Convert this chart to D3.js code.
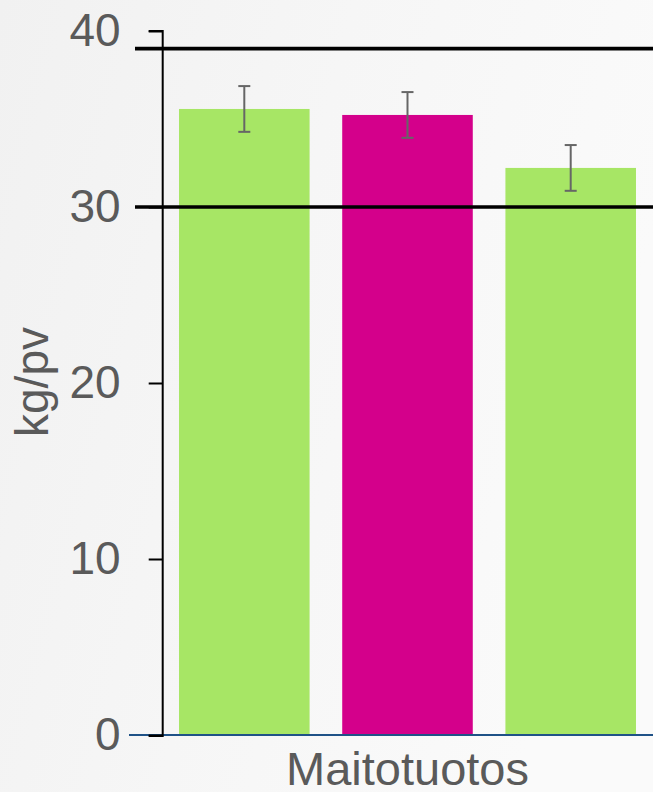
<!DOCTYPE html>
<html>
<head>
<meta charset="utf-8">
<script src="https://cdn.jsdelivr.net/npm/d3@7/dist/d3.min.js"></script>
<style>
  html, body { margin: 0; padding: 0; background: #f5f5f5; }
  svg { display: block; }
  text { font-family: "Liberation Sans", Arial, sans-serif; }
</style>
</head>
<body>
<svg id="chart" width="653" height="792"></svg>
<script>
// ---- data ----
const categories = ["Maitotuotos"];
const seriesNames = ["Ryhmä 1", "Ryhmä 2", "Ryhmä 3"];
const seriesValues = [35.57, 35.23, 32.22];
const seriesErrors = [1.3, 1.3, 1.3];
const seriesColors = ["#a7e665", "#d4008b", "#a7e665"];
const refLines = [39, 30];
const yTicks = [0, 10, 20, 30, 40];
const yLabel = "kg/pv";

// ---- layout ----
const W = 653, H = 792;
const x0 = 162.7, x1 = 652.3, yTop = 31, yBottom = 735;

const svg = d3.select("#chart");

// background
const defs = svg.append("defs");
const grad = defs.append("linearGradient").attr("id", "bg").attr("x1", "0").attr("y1", "0").attr("x2", "1").attr("y2", "0.3");
grad.append("stop").attr("offset", "0").attr("stop-color", "#f1f1f1");
grad.append("stop").attr("offset", "0.5").attr("stop-color", "#f6f6f6");
grad.append("stop").attr("offset", "1").attr("stop-color", "#fafafa");
svg.append("rect").attr("width", W).attr("height", H).attr("fill", "url(#bg)");

const y = d3.scaleLinear().domain([0, 40]).range([yBottom, yTop]);
const xCat = d3.scaleBand().domain(categories).range([x0, x1]);
const xSer = d3.scaleBand().domain(seriesNames).range([0, xCat.bandwidth()])
  .paddingInner(0.2).paddingOuter(0.1);

const data = seriesNames.map((s, i) => ({ cat: categories[0], s, v: seriesValues[i], e: seriesErrors[i], c: seriesColors[i] }));

// bars
const g = svg.append("g");
g.selectAll("rect.bar").data(data).join("rect")
  .attr("class", "bar")
  .attr("x", d => xCat(d.cat) + xSer(d.s))
  .attr("y", d => y(d.v))
  .attr("width", xSer.bandwidth())
  .attr("height", d => y(0) - y(d.v))
  .attr("fill", d => d.c);

// error bars
const eb = g.selectAll("g.err").data(data).join("g").attr("class", "err")
  .attr("stroke", "#666666").attr("stroke-width", 2);
eb.append("line")
  .attr("x1", d => xCat(d.cat) + xSer(d.s) + xSer.bandwidth() / 2)
  .attr("x2", d => xCat(d.cat) + xSer(d.s) + xSer.bandwidth() / 2)
  .attr("y1", d => y(d.v + d.e)).attr("y2", d => y(d.v - d.e));
[1, -1].forEach(sign => {
  eb.append("line")
    .attr("x1", d => xCat(d.cat) + xSer(d.s) + xSer.bandwidth() / 2 - 6)
    .attr("x2", d => xCat(d.cat) + xSer(d.s) + xSer.bandwidth() / 2 + 6)
    .attr("y1", d => y(d.v + sign * d.e)).attr("y2", d => y(d.v + sign * d.e));
});

// baseline (blue)
svg.append("line")
  .attr("x1", 129).attr("x2", W)
  .attr("y1", y(0)).attr("y2", y(0))
  .attr("stroke", "#1f5287").attr("stroke-width", 1.8);

// y axis
const yAxis = d3.axisLeft(y).tickValues(yTicks).tickSize(14).tickPadding(28).tickFormat(d3.format("d"));
const ya = svg.append("g").attr("transform", `translate(${x0},0)`).call(yAxis);
ya.select(".domain").attr("stroke", "#000").attr("stroke-width", 2).attr("d", `M-14,${yTop}H0V${yBottom + 1}H-14`);
ya.selectAll(".tick line").attr("stroke", "#000").attr("stroke-width", 2);
ya.selectAll(".tick text").attr("font-size", 46).attr("fill", "#5a5a5a")
  .attr("font-family", "'Liberation Sans', Arial, sans-serif");

// reference lines
svg.selectAll("line.ref").data(refLines).join("line")
  .attr("class", "ref")
  .attr("x1", 135).attr("x2", W)
  .attr("y1", d => y(d)).attr("y2", d => y(d))
  .attr("stroke", "#000").attr("stroke-width", 3.6);

// x axis label (category)
const xAxis = d3.axisBottom(xCat).tickSize(0).tickPadding(0);
const xa = svg.append("g").attr("transform", `translate(0,${y(0)})`).call(xAxis);
xa.select(".domain").remove();
xa.selectAll(".tick text").attr("font-size", 47).attr("fill", "#5a5a5a")
  .attr("font-family", "'Liberation Sans', Arial, sans-serif")
  .attr("dy", null).attr("y", 50);

// y label
svg.append("text")
  .attr("transform", `translate(48,382) rotate(-90)`)
  .attr("text-anchor", "middle")
  .attr("font-size", 46).attr("fill", "#5a5a5a")
  .text(yLabel);
</script>
</body>
</html>
